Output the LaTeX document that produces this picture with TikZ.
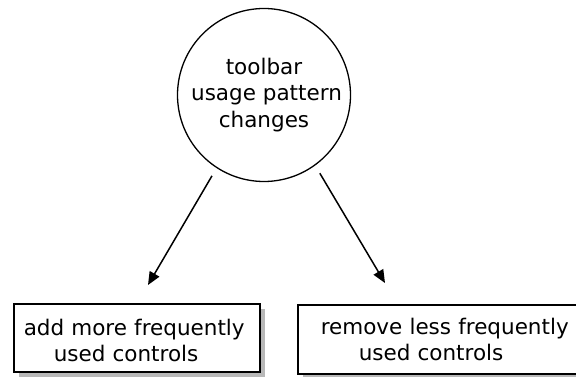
\documentclass[tikz,border=0pt]{standalone}
\usepackage{fontspec}
\setmainfont{DejaVu Sans}
\usetikzlibrary{arrows.meta,shadows}
\begin{document}
\begin{tikzpicture}[x=1pt,y=-1pt,
  every node/.style={font=\fontsize{21.5}{26.5}\selectfont, text=black},
  bubble/.style={circle, draw=black, line width=1.3pt, minimum size=173pt, inner sep=0pt, align=center},
  actionbox/.style={rectangle, draw=black, line width=1.5pt, fill=white, align=left, inner xsep=0pt, inner ysep=0pt,
    drop shadow={shadow xshift=5pt, shadow yshift=-5pt, fill=black!28, opacity=1}},
  arr/.style={line width=1.5pt, -{Triangle[length=13pt,width=11pt]}}]
\useasboundingbox (0,0) rectangle (576,377);
\node[bubble] (c) at (264,95) {toolbar\\\hspace*{5pt}usage pattern\\changes};
\node[actionbox, text width=246pt, minimum height=68pt, anchor=north west] (a) at (13,303)
  {\hspace*{10pt}\rule{0pt}{22pt}add more frequently\\\hspace*{40pt}used controls};
\node[actionbox, text width=300pt, minimum height=69pt, anchor=north west] (r) at (297,304)
  {\hspace*{23pt}remove less frequently\\\hspace*{61pt}used controls};
\coordinate (ta) at (148,285);
\coordinate (tr) at (385,283);
\draw[arr, shorten <=9pt] (c.237) -- (ta);
\draw[arr, shorten <=9pt] (c.-54) -- (tr);
\end{tikzpicture}
\end{document}
